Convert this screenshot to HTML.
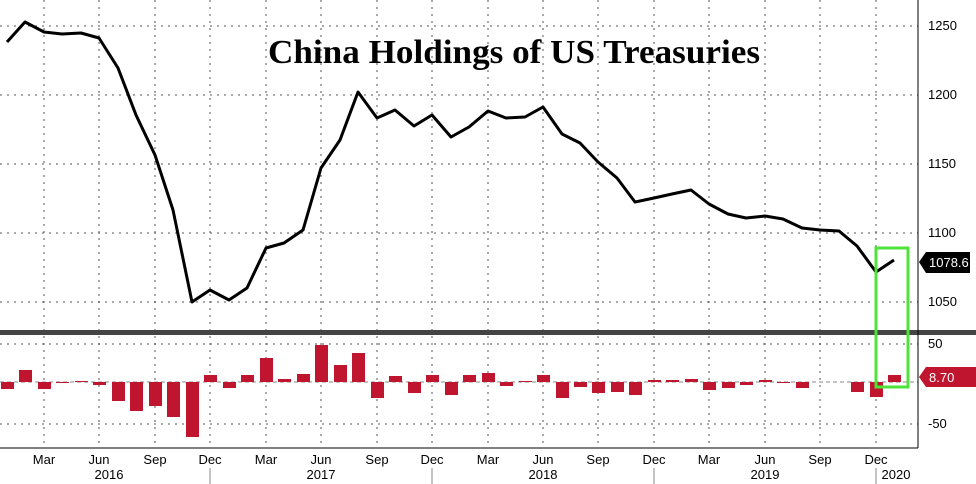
<!DOCTYPE html><html><head><style>body{margin:0;background:#fff}svg{display:block}</style></head><body>
<svg width="976" height="484" xmlns="http://www.w3.org/2000/svg" font-family="Liberation Sans, sans-serif">
<rect width="976" height="484" fill="#fff"/>
<g stroke="#555" stroke-dasharray="2,5" stroke-width="1">
<line x1="0" x2="918" y1="26" y2="26"/><line x1="0" x2="918" y1="95" y2="95"/><line x1="0" x2="918" y1="164" y2="164"/><line x1="0" x2="918" y1="233" y2="233"/><line x1="0" x2="918" y1="302" y2="302"/>
<line x1="0" x2="918" y1="344" y2="344"/><line x1="0" x2="918" y1="424" y2="424"/>
<g><line x1="44" x2="44" y1="0" y2="445"/><line x1="99" x2="99" y1="0" y2="445"/><line x1="155" x2="155" y1="0" y2="445"/><line x1="210" x2="210" y1="0" y2="445"/><line x1="266" x2="266" y1="0" y2="445"/><line x1="321" x2="321" y1="0" y2="445"/><line x1="377" x2="377" y1="0" y2="445"/><line x1="432" x2="432" y1="0" y2="445"/><line x1="488" x2="488" y1="0" y2="445"/><line x1="543" x2="543" y1="0" y2="445"/><line x1="598" x2="598" y1="0" y2="445"/><line x1="654" x2="654" y1="0" y2="445"/><line x1="709" x2="709" y1="0" y2="445"/><line x1="765" x2="765" y1="0" y2="445"/><line x1="820" x2="820" y1="0" y2="445"/><line x1="876" x2="876" y1="0" y2="445"/></g>
</g>
<line x1="0" x2="918" y1="382" y2="382" stroke="#888" stroke-dasharray="4,3"/>
<text x="514" y="63" text-anchor="middle" font-family="Liberation Serif, serif" font-weight="bold" font-size="34" textLength="492" lengthAdjust="spacingAndGlyphs">China Holdings of US Treasuries</text>
<polyline fill="none" stroke="#000" stroke-width="3" stroke-linejoin="round" points="7,42 25,22 44,32 62,34 81,33 99,38 118,68 136,115 155,155 173,210 192,302 210,290 229,300 247,288 266,248 284,243 303,230 321,168 340,140 358,92 377,118 395,110 414,126 432,115 451,137 469,127 488,111 506,118 525,117 543,107 562,134 580,143 598,162 617,178 635,202 654,198 672,194 691,190 709,204 728,214 746,218 765,216 783,219 802,228 820,230 839,231 857,246 876,272 894,260"/>
<g fill="#c0152f">
<rect x="1" y="382" width="13" height="7"/><rect x="19" y="370" width="13" height="12"/><rect x="38" y="382" width="13" height="7"/><rect x="56" y="382" width="13" height="1"/><rect x="75" y="381" width="13" height="1"/><rect x="93" y="382" width="13" height="3"/><rect x="112" y="382" width="13" height="19"/><rect x="130" y="382" width="13" height="29"/><rect x="149" y="382" width="13" height="24"/><rect x="167" y="382" width="13" height="35"/><rect x="186" y="382" width="13" height="55"/><rect x="204" y="375" width="13" height="7"/><rect x="223" y="382" width="13" height="6"/><rect x="241" y="375" width="13" height="7"/><rect x="260" y="358" width="13" height="24"/><rect x="278" y="379" width="13" height="3"/><rect x="297" y="374" width="13" height="8"/><rect x="315" y="345" width="13" height="37"/><rect x="334" y="365" width="13" height="17"/><rect x="352" y="353" width="13" height="29"/><rect x="371" y="382" width="13" height="16"/><rect x="389" y="376" width="13" height="6"/><rect x="408" y="382" width="13" height="11"/><rect x="426" y="375" width="13" height="7"/><rect x="445" y="382" width="13" height="13"/><rect x="463" y="375" width="13" height="7"/><rect x="482" y="373" width="13" height="9"/><rect x="500" y="382" width="13" height="4"/><rect x="519" y="381" width="13" height="1"/><rect x="537" y="375" width="13" height="7"/><rect x="556" y="382" width="13" height="16"/><rect x="574" y="382" width="13" height="5"/><rect x="592" y="382" width="13" height="11"/><rect x="611" y="382" width="13" height="10"/><rect x="629" y="382" width="13" height="13"/><rect x="648" y="380" width="13" height="2"/><rect x="666" y="380" width="13" height="2"/><rect x="685" y="379" width="13" height="3"/><rect x="703" y="382" width="13" height="8"/><rect x="722" y="382" width="13" height="6"/><rect x="740" y="382" width="13" height="3"/><rect x="759" y="380" width="13" height="2"/><rect x="777" y="382" width="13" height="1"/><rect x="796" y="382" width="13" height="6"/><rect x="851" y="382" width="13" height="10"/><rect x="870" y="382" width="13" height="15"/><rect x="888" y="375" width="13" height="7"/>
</g>
<rect x="0" y="330" width="976" height="5" fill="#444"/>
<line x1="918" x2="918" y1="0" y2="448" stroke="#000"/>
<line x1="0" x2="918" y1="448" y2="448" stroke="#000"/>
<rect x="876" y="248" width="32" height="139" fill="none" stroke="#4de33a" stroke-width="3"/>
<g font-size="13" fill="#000">
<text x="928" y="30">1250</text><text x="928" y="99">1200</text><text x="928" y="168">1150</text><text x="928" y="237">1100</text><text x="928" y="306">1050</text>
<text x="928" y="348">50</text><text x="928" y="428">-50</text>
</g>
<polygon points="919,262 926,252 970,252 970,273 926,273" fill="#000"/>
<text x="929" y="267" font-size="13" fill="#fff">1078.6</text>
<polygon points="919,377 926,367 976,367 976,387 926,387" fill="#c0152f"/>
<text x="929" y="382" font-size="13" fill="#fff">8.70</text>
<g font-size="13" text-anchor="middle">
<text x="44" y="464">Mar</text><text x="99" y="464">Jun</text><text x="155" y="464">Sep</text><text x="210" y="464">Dec</text><text x="266" y="464">Mar</text><text x="321" y="464">Jun</text><text x="377" y="464">Sep</text><text x="432" y="464">Dec</text><text x="488" y="464">Mar</text><text x="543" y="464">Jun</text><text x="598" y="464">Sep</text><text x="654" y="464">Dec</text><text x="709" y="464">Mar</text><text x="765" y="464">Jun</text><text x="820" y="464">Sep</text><text x="876" y="464">Dec</text>
<text x="109" y="479">2016</text><text x="321" y="479">2017</text><text x="543" y="479">2018</text><text x="765" y="479">2019</text><text x="896" y="479">2020</text>
</g>
<g stroke="#888"><line x1="210" x2="210" y1="468" y2="484"/><line x1="432" x2="432" y1="468" y2="484"/><line x1="654" x2="654" y1="468" y2="484"/><line x1="876" x2="876" y1="468" y2="484"/></g>
</svg></body></html>
